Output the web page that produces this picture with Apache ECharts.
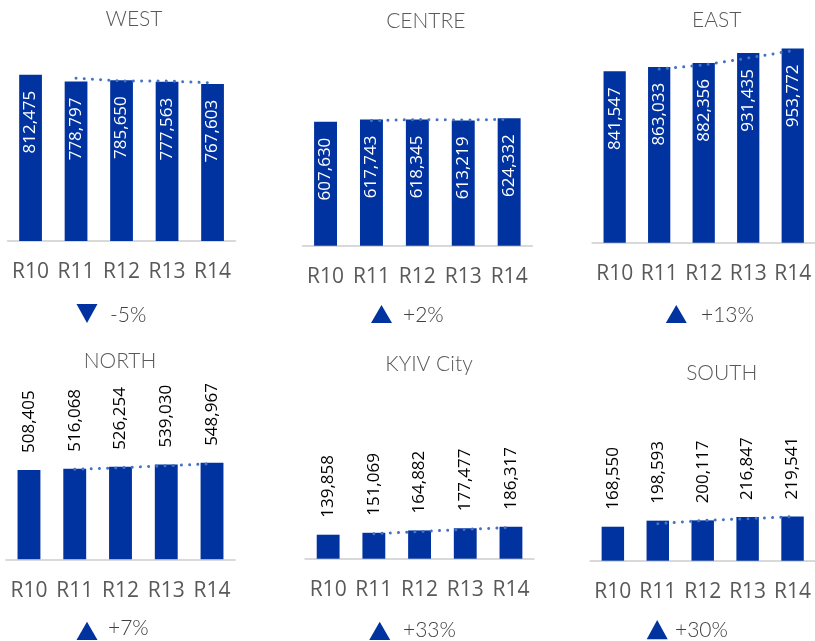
<!DOCTYPE html>
<html>
<head>
<meta charset="utf-8">
<title>Regions R10-R14</title>
<script src="https://cdn.jsdelivr.net/npm/echarts@6/dist/echarts.min.js"></script>
</head>
<body style="margin:0">
<div id="main" style="width:815px;height:641px;background:#fff"></div>
<script>
var rounds = ['R10', 'R11', 'R12', 'R13', 'R14'];
var regions = ['WEST', 'CENTRE', 'EAST', 'NORTH', 'KYIV City', 'SOUTH'];

var west = [812475, 778797, 785650, 777563, 767603];
var centre = [607630, 617743, 618345, 613219, 624332];
var east = [841547, 863033, 882356, 931435, 953772];
var north = [508405, 516068, 526254, 539030, 548967];
var kyiv = [139858, 151069, 164882, 177477, 186317];
var south = [168550, 198593, 200117, 216847, 219541];

var changes = ['-5%', '+2%', '+13%', '+7%', '+33%', '+30%'];
var values = [west, centre, east, north, kyiv, south];

// panel geometry (px)
var panels = [
  {left: 7.8, width: 227.5, base: 241, height: 184.2, max: 900000, title: [134, 19.5], tri: [87, 304, 323], pct: [110, 315], inside: true},
  {left: 302.6, width: 229.5, base: 245.7, height: 142.9, max: 700000, title: [425.8, 20.8], tri: [381.5, 305, 323], pct: [403, 315], inside: true},
  {left: 592.4, width: 229.3, base: 242.7, height: 203.7, max: 1000000, title: [716.7, 20], tri: [676.3, 305, 323], pct: [701, 315], inside: true},
  {left: 6.1, width: 228.8, base: 559.3, height: 105.4, max: 600000, title: [120, 361], tri: [87, 621.7, 640], pct: [108, 628], inside: false},
  {left: 305.3, width: 228.5, base: 558.7, height: 34.3, max: 200000, title: [429, 364.5], tri: [379.7, 621.7, 640], pct: [403, 630], inside: false},
  {left: 590.4, width: 228, base: 560.7, height: 50.4, max: 250000, title: [721.7, 373.3], tri: [657.2, 620, 639.3], pct: [675, 630], inside: false}
];

var barColor = '#0033A0';
var trendColor = '#4472C4';

// 2-period moving average trendline, as in the original
function movingAvg(arr) {
  return arr.map(function (v, i) { return i === 0 ? null : (arr[i - 1] + v) / 2; });
}

var grids = [], xAxes = [], yAxes = [], series = [], graphics = [];

panels.forEach(function (p, i) {
  grids.push({left: p.left, width: p.width, top: p.base - p.height, height: p.height, containLabel: false});
  xAxes.push({
    type: 'category', gridIndex: i, data: rounds,
    axisLine: {lineStyle: {color: '#D9D9D9', width: 2}},
    axisTick: {show: false},
    axisLabel: {color: '#595959', fontSize: 21, fontFamily: 'Open Sans', margin: 21, interval: 0}
  });
  yAxes.push({
    type: 'value', gridIndex: i, min: 0, max: p.max, show: false,
    splitLine: {show: false}
  });
  series.push({
    type: 'bar', xAxisIndex: i, yAxisIndex: i, data: values[i],
    barWidth: '50%', itemStyle: {color: barColor},
    label: p.inside ? {
      show: true, position: 'insideTop', distance: 16, rotate: 90,
      align: 'right', verticalAlign: 'middle',
      color: '#fff', fontSize: 17, fontFamily: 'Open Sans',
      formatter: function (d) { return d.value.toLocaleString('en-US'); }
    } : {
      show: true, position: 'top', distance: 17, rotate: 90,
      align: 'left', verticalAlign: 'middle',
      color: '#000', fontSize: 17, fontFamily: 'Open Sans',
      formatter: function (d) { return d.value.toLocaleString('en-US'); }
    }
  });
  series.push({
    type: 'line', xAxisIndex: i, yAxisIndex: i, data: movingAvg(values[i]),
    symbol: 'none', z: 5,
    lineStyle: {color: trendColor, width: 3, type: [0.01, 8.2], cap: 'round'}
  });

  graphics.push({
    type: 'text', x: p.title[0], y: p.title[1],
    style: {text: regions[i], fill: '#595959', fontSize: 21, fontWeight: 300, fontFamily: 'Lato',
      align: 'center', verticalAlign: 'middle'}
  });
  var up = changes[i].charAt(0) !== '-';
  var cx = p.tri[0], y0 = p.tri[1], y1 = p.tri[2], hw = 10.5;
  graphics.push({
    type: 'polygon',
    shape: {points: up ? [[cx - hw, y1], [cx + hw, y1], [cx, y0]] : [[cx - hw, y0], [cx + hw, y0], [cx, y1]]},
    style: {fill: barColor}
  });
  graphics.push({
    type: 'text', x: p.pct[0], y: p.pct[1],
    style: {text: changes[i], fill: '#404040', fontSize: 21, fontWeight: 300, fontFamily: 'Lato',
      align: 'left', verticalAlign: 'middle'}
  });
});

var chart = echarts.init(document.getElementById('main'));
chart.setOption({
  animation: false,
  grid: grids,
  xAxis: xAxes,
  yAxis: yAxes,
  series: series,
  graphic: graphics
});
</script>
</body>
</html>
